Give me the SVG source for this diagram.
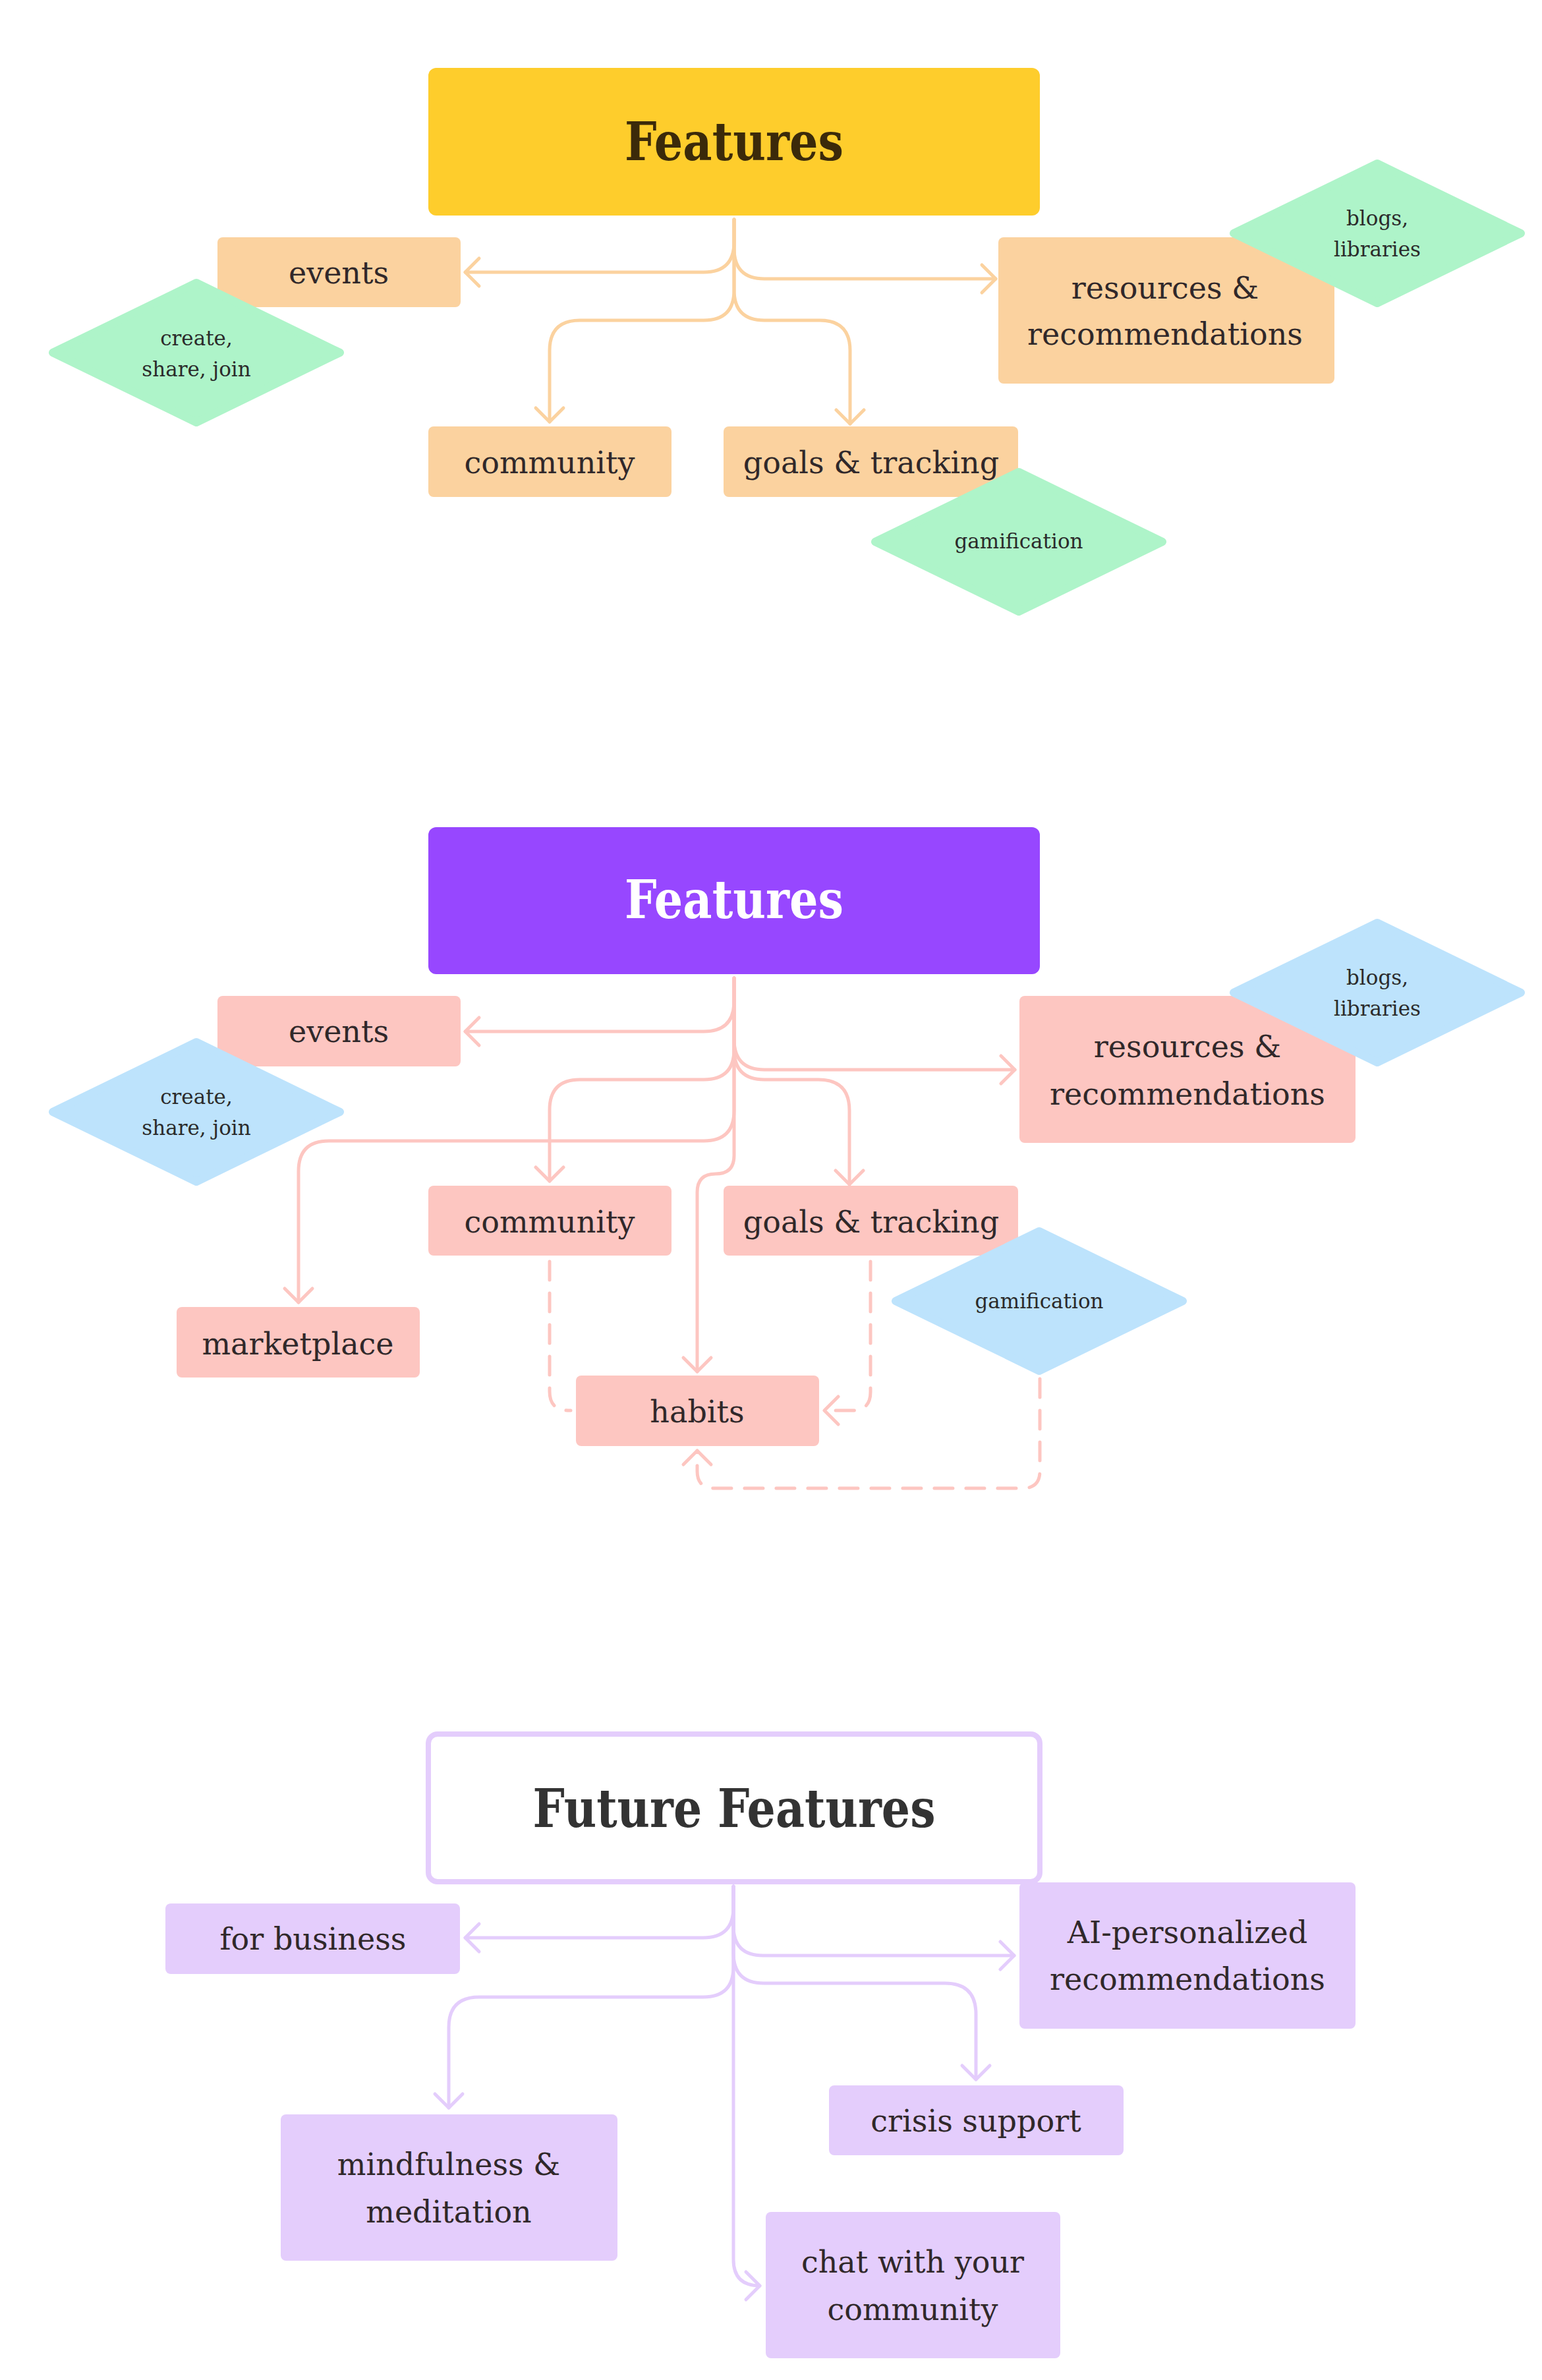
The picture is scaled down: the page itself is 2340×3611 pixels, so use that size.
<svg xmlns="http://www.w3.org/2000/svg" width="2340" height="3611" viewBox="0 0 2340 3611">
<style>
.t{font-family:"DejaVu Serif","Liberation Serif",serif;font-size:46px;fill:#30282A;text-anchor:middle}
.d{font-family:"DejaVu Serif","Liberation Serif",serif;font-size:31px;fill:#2B2B2B;text-anchor:middle}
.h{font-family:"DejaVu Serif","Liberation Serif",serif;font-size:80px;font-weight:bold;text-anchor:middle}
.c1,.c2,.c3{fill:none;stroke-width:5;stroke-linecap:round;stroke-linejoin:round}
.c1{stroke:#FBD29F}.c2{stroke:#FDC6C1}.c3{stroke:#E4CDFC}
.dash{stroke-dasharray:28 20}
.b1{fill:#FBD29F}.b2{fill:#FDC6C1}.b3{fill:#E4CDFC}
.dg{fill:#AEF4C9;stroke:#AEF4C9;stroke-width:12;stroke-linejoin:round}
.db{fill:#BDE3FC;stroke:#BDE3FC;stroke-width:12;stroke-linejoin:round}
</style>
<defs>
<marker id="m1" markerUnits="userSpaceOnUse" markerWidth="60" markerHeight="60" viewBox="-30 -30 60 60" refX="0" refY="0" orient="auto" overflow="visible"><path d="M-21,-21 L0,0 L-21,21" fill="none" stroke="#FBD29F" stroke-width="5" stroke-linecap="round" stroke-linejoin="round"/></marker>
<marker id="m2" markerUnits="userSpaceOnUse" markerWidth="60" markerHeight="60" viewBox="-30 -30 60 60" refX="0" refY="0" orient="auto" overflow="visible"><path d="M-21,-21 L0,0 L-21,21" fill="none" stroke="#FDC6C1" stroke-width="5" stroke-linecap="round" stroke-linejoin="round"/></marker>
<marker id="m3" markerUnits="userSpaceOnUse" markerWidth="60" markerHeight="60" viewBox="-30 -30 60 60" refX="0" refY="0" orient="auto" overflow="visible"><path d="M-21,-21 L0,0 L-21,21" fill="none" stroke="#E4CDFC" stroke-width="5" stroke-linecap="round" stroke-linejoin="round"/></marker>
</defs>
<rect width="2340" height="3611" fill="#FFFFFF"/>

<g id="connectors">
<!-- section 1 -->
<path class="c1" marker-end="url(#m1)" d="M1114,333 V367 Q1114,413 1068,413 H706"/>
<path class="c1" marker-end="url(#m1)" d="M1114,333 V377 Q1114,423 1160,423 H1511"/>
<path class="c1" marker-end="url(#m1)" d="M1114,333 V440 Q1114,486 1068,486 H880 Q834,486 834,532 V640"/>
<path class="c1" marker-end="url(#m1)" d="M1114,333 V440 Q1114,486 1160,486 H1244 Q1290,486 1290,532 V643"/>
<!-- section 2 -->
<path class="c2" marker-end="url(#m2)" d="M1114,1484 V1519 Q1114,1565 1068,1565 H706"/>
<path class="c2" marker-end="url(#m2)" d="M1114,1484 V1577 Q1114,1623 1160,1623 H1540"/>
<path class="c2" marker-end="url(#m2)" d="M1114,1484 V1592 Q1114,1638 1068,1638 H880 Q834,1638 834,1684 V1792"/>
<path class="c2" marker-end="url(#m2)" d="M1114,1484 V1592 Q1114,1638 1160,1638 H1242 Q1289,1638 1289,1685 V1797"/>
<path class="c2" marker-end="url(#m2)" d="M1114,1484 V1685 Q1114,1731 1068,1731 H499 Q453,1731 453,1777 V1976"/>
<path class="c2" marker-end="url(#m2)" d="M1114,1484 V1753 Q1114,1781 1086,1781 Q1058,1781 1058,1809 V2081"/>
<path class="c2 dash" d="M834,1914 V2111 Q834,2140 863,2140 H866"/>
<path class="c2 dash" marker-end="url(#m2)" d="M1321,1914 V2112 Q1321,2140 1293,2140 H1251"/>
<path class="c2 dash" marker-end="url(#m2)" d="M1578,2092 V2232 Q1578,2258 1552,2258 H1084 Q1058,2258 1058,2232 V2201"/>
<!-- section 3 -->
<path class="c3" marker-end="url(#m3)" d="M1113,2862 V2894 Q1113,2940 1067,2940 H706"/>
<path class="c3" marker-end="url(#m3)" d="M1113,2862 V2922 Q1113,2967 1158,2967 H1539"/>
<path class="c3" marker-end="url(#m3)" d="M1113,2862 V2963 Q1113,3009 1159,3009 H1434 Q1481,3009 1481,3056 V3155"/>
<path class="c3" marker-end="url(#m3)" d="M1113,2862 V2984 Q1113,3030 1067,3030 H727 Q681,3030 681,3076 V3198"/>
<path class="c3" marker-end="url(#m3)" d="M1113,2862 V3428 Q1113,3468 1153,3468"/>
</g>

<!-- Section 1 -->
<g id="features-1">
<rect x="650" y="103" width="928" height="224" rx="12" fill="#FECD2C"/>
<text class="h" x="1114" y="243" fill="#3B2A0A" textLength="332" lengthAdjust="spacingAndGlyphs">Features</text>
</g>
<g id="events-1"><rect class="b1" x="330" y="360" width="369" height="106" rx="8"/><text class="t" x="514" y="430">events</text></g>
<g id="resources-1"><rect class="b1" x="1515" y="360" width="510" height="222" rx="8"/><text class="t" x="1768" y="453">resources &amp;</text><text class="t" x="1768" y="523">recommendations</text></g>
<g id="community-1"><rect class="b1" x="650" y="647" width="369" height="107" rx="8"/><text class="t" x="834" y="718">community</text></g>
<g id="goals-1"><rect class="b1" x="1098" y="647" width="447" height="107" rx="8"/><text class="t" x="1322" y="718">goals &amp; tracking</text></g>
<g id="create-1"><polygon class="dg" points="80,535 298,429 516,535 298,641"/><text class="d" x="298" y="524">create,</text><text class="d" x="298" y="571">share, join</text></g>
<g id="blogs-1"><polygon class="dg" points="1872,354 2090,248 2308,354 2090,460"/><text class="d" x="2090" y="342">blogs,</text><text class="d" x="2090" y="389">libraries</text></g>
<g id="gamification-1"><polygon class="dg" points="1328,822 1546,716 1764,822 1546,928"/><text class="d" x="1546" y="832">gamification</text></g>

<!-- Section 2 -->
<g id="features-2">
<rect x="650" y="1255" width="928" height="223" rx="12" fill="#9747FF"/>
<text class="h" x="1114" y="1393" fill="#FFFFFF" textLength="332" lengthAdjust="spacingAndGlyphs">Features</text>
</g>
<g id="events-2"><rect class="b2" x="330" y="1511" width="369" height="107" rx="8"/><text class="t" x="514" y="1581">events</text></g>
<g id="resources-2"><rect class="b2" x="1547" y="1511" width="510" height="223" rx="8"/><text class="t" x="1802" y="1604">resources &amp;</text><text class="t" x="1802" y="1676">recommendations</text></g>
<g id="community-2"><rect class="b2" x="650" y="1799" width="369" height="106" rx="8"/><text class="t" x="834" y="1870">community</text></g>
<g id="goals-2"><rect class="b2" x="1098" y="1799" width="447" height="106" rx="8"/><text class="t" x="1322" y="1870">goals &amp; tracking</text></g>
<g id="marketplace-2"><rect class="b2" x="268" y="1983" width="369" height="107" rx="8"/><text class="t" x="452" y="2055">marketplace</text></g>
<g id="habits-2"><rect class="b2" x="874" y="2087" width="369" height="107" rx="8"/><text class="t" x="1058" y="2158">habits</text></g>
<g id="create-2"><polygon class="db" points="80,1687 298,1581 516,1687 298,1793"/><text class="d" x="298" y="1675">create,</text><text class="d" x="298" y="1722">share, join</text></g>
<g id="blogs-2"><polygon class="db" points="1872,1506 2090,1400 2308,1506 2090,1612"/><text class="d" x="2090" y="1494">blogs,</text><text class="d" x="2090" y="1541">libraries</text></g>
<g id="gamification-2"><polygon class="db" points="1359,1974 1577,1868 1795,1974 1577,2080"/><text class="d" x="1577" y="1985">gamification</text></g>

<!-- Section 3 -->
<g id="future-features">
<rect x="650" y="2631" width="928" height="224" rx="14" fill="#FFFFFF" stroke="#E4CDFC" stroke-width="8"/>
<text class="h" x="1114" y="2772" fill="#333333" textLength="611" lengthAdjust="spacingAndGlyphs">Future Features</text>
</g>
<g id="for-business"><rect class="b3" x="251" y="2888" width="447" height="107" rx="8"/><text class="t" x="475" y="2958">for business</text></g>
<g id="ai-recommendations"><rect class="b3" x="1547" y="2856" width="510" height="222" rx="8"/><text class="t" x="1802" y="2948">AI-personalized</text><text class="t" x="1802" y="3019">recommendations</text></g>
<g id="crisis-support"><rect class="b3" x="1258" y="3164" width="447" height="106" rx="8"/><text class="t" x="1481" y="3234">crisis support</text></g>
<g id="mindfulness"><rect class="b3" x="426" y="3208" width="511" height="222" rx="8"/><text class="t" x="681" y="3300">mindfulness &amp;</text><text class="t" x="681" y="3372">meditation</text></g>
<g id="chat-community"><rect class="b3" x="1162" y="3356" width="447" height="222" rx="8"/><text class="t" x="1385" y="3448">chat with your</text><text class="t" x="1385" y="3520">community</text></g>
</svg>
